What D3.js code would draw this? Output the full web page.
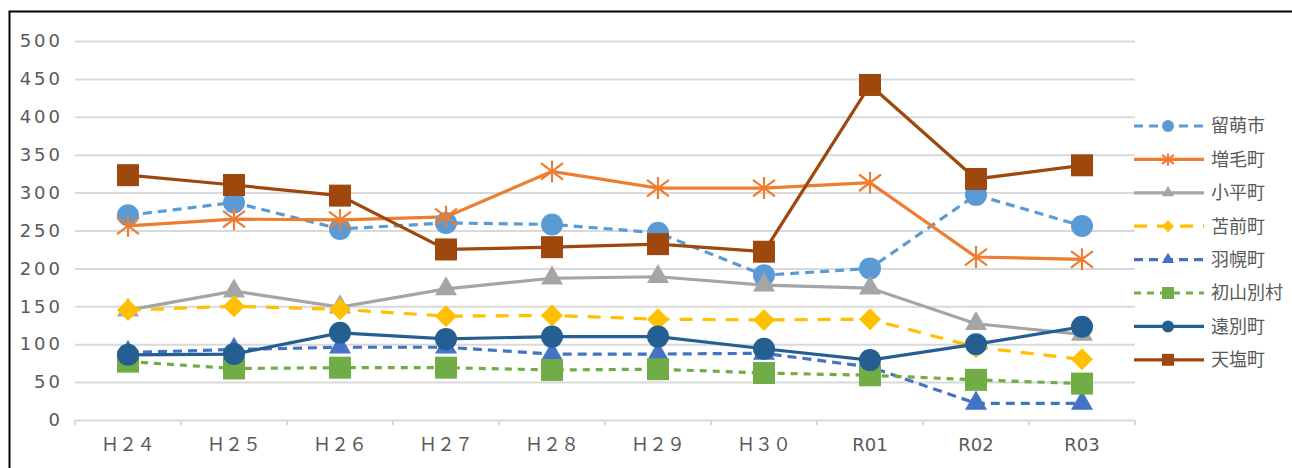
<!DOCTYPE html>
<html>
<head>
<meta charset="utf-8">
<script src="https://cdn.jsdelivr.net/npm/d3@7"></script>
<style>
  body { margin: 0; background: #fff; }
  text { font-family: "Noto Sans CJK JP", "Noto Sans", sans-serif; fill: #595959; }
</style>
</head>
<body>
<div id="chart"></div>
<script>
const years = ['Ｈ２４', 'Ｈ２５', 'Ｈ２６', 'Ｈ２７', 'Ｈ２８', 'Ｈ２９', 'Ｈ３０', 'R01', 'R02', 'R03'];
const yTicks = [0, 50, 100, 150, 200, 250, 300, 350, 400, 450, 500];

const rumoi    = [270, 287, 252, 260, 258, 247, 191, 200, 297, 256];
const mashike  = [256, 265, 264, 268, 328, 306, 306, 313, 215, 212];
const obira    = [145, 170, 149, 173, 187, 189, 178, 174, 127, 113];
const tomamae  = [145, 150, 146, 137, 138, 133, 132, 133, 96, 80];
const haboro   = [89, 93, 96, 96, 87, 87, 88, 70, 22, 22];
const shosanbetsu = [77, 68, 69, 69, 66, 67, 62, 59, 53, 48];
const enbetsu  = [86, 87, 115, 107, 110, 110, 94, 79, 100, 123];
const teshio   = [323, 310, 296, 225, 228, 232, 222, 442, 318, 336];

const names = ['留萌市', '増毛町', '小平町', '苫前町', '羽幌町', '初山別村', '遠別町', '天塩町'];
const values = [rumoi, mashike, obira, tomamae, haboro, shosanbetsu, enbetsu, teshio];

// line style for each series
const styles = [
  { color: '#5B9BD5', dash: '9,6',   marker: 'circle' },
  { color: '#ED7D31', dash: null,    marker: 'star' },
  { color: '#A5A5A5', dash: null,    marker: 'triangle' },
  { color: '#FFC000', dash: '13,10', marker: 'diamond' },
  { color: '#4472C4', dash: '9,6',   marker: 'triangle' },
  { color: '#70AD47', dash: '7,6',   marker: 'square' },
  { color: '#255E91', dash: null,    marker: 'circle' },
  { color: '#9E480E', dash: null,    marker: 'square' }
];

const width = 1292, height = 468;
const plotLeft = 75, plotRight = 1135, plotTop = 41, plotBottom = 420;

const svg = d3.select('#chart').append('svg')
    .attr('width', width)
    .attr('height', height);

// outer frame
svg.append('rect')
    .attr('x', 9.5).attr('y', 11.5)
    .attr('width', 1300).attr('height', 500)
    .style('fill', 'none').style('stroke', '#000').style('stroke-width', 2);

const x = d3.scaleBand().domain(years).range([plotLeft, plotRight]).padding(0);
const y = d3.scaleLinear().domain([0, 500]).range([plotBottom, plotTop]);

// gridlines + y labels
const yAxis = svg.append('g')
    .attr('transform', 'translate(' + plotLeft + ',0)')
    .call(d3.axisLeft(y).tickValues(yTicks).tickSize(-(plotRight - plotLeft)).tickPadding(12));
yAxis.select('.domain').remove();
yAxis.selectAll('line').style('stroke', '#D9D9D9').style('stroke-width', 2);
yAxis.selectAll('text')
    .style('font-family', '"DejaVu Sans", sans-serif')
    .style('font-size', '18px')
    .style('fill', '#595959')
    .style('letter-spacing', '3px');

// x axis labels
const xAxis = svg.append('g')
    .attr('transform', 'translate(0,' + plotBottom + ')')
    .call(d3.axisBottom(x).tickSize(0).tickPadding(18));
xAxis.select('.domain').remove();
xAxis.selectAll('text').style('fill', '#595959')
    .style('font-family', function(d) { return d[0] === 'R' ? '"DejaVu Sans", sans-serif' : '"Noto Sans CJK JP", sans-serif'; })
    .style('font-size', '18px');

// x ticks at band edges
const edges = years.map(function(d) { return x(d); }).concat([plotRight]);
svg.append('g').selectAll('line').data(edges)
    .enter().append('line')
        .attr('x1', function(d) { return d; })
        .attr('x2', function(d) { return d; })
        .attr('y1', plotBottom)
        .attr('y2', plotBottom + 5)
        .style('stroke', '#D9D9D9')
        .style('stroke-width', 2);

// Excel-like star: vertical bar plus an X
const starSymbol = {
  draw: function(ctx, size) {
    const r = Math.sqrt(size) / 2;
    ctx.moveTo(0, -r); ctx.lineTo(0, r);
    ctx.moveTo(-r, -r * 0.75); ctx.lineTo(r, r * 0.75);
    ctx.moveTo(-r, r * 0.75); ctx.lineTo(r, -r * 0.75);
  }
};

function markerPath(kind, s) {
  // s = approximate marker width in px
  if (kind === 'circle') return d3.symbol(d3.symbolCircle, Math.PI * s * s / 4)();
  if (kind === 'square') return d3.symbol(d3.symbolSquare, s * s)();
  if (kind === 'triangle') return d3.symbol(d3.symbolTriangle, Math.sqrt(3) / 4 * s * s)();
  if (kind === 'diamond') return d3.symbol(d3.symbolSquare, s * s / 2)();
  return d3.symbol(starSymbol, s * s)();
}

function drawMarker(g, kind, color, cx, cy, s) {
  const p = g.append('path')
      .attr('d', markerPath(kind, s))
      .attr('transform', 'translate(' + cx + ',' + cy + ')' + (kind === 'diamond' ? ' rotate(45)' : ''));
  if (kind === 'star') {
    p.style('fill', 'none').style('stroke', color).style('stroke-width', 2.2);
  } else {
    p.style('fill', color);
  }
}

const line = d3.line()
    .x(function(d, i) { return x(years[i]) + x.bandwidth() / 2; })
    .y(function(d) { return y(d); });

values.forEach(function(vals, k) {
  const st = styles[k];
  const g = svg.append('g');
  g.append('path')
      .datum(vals)
      .attr('d', line)
      .style('fill', 'none')
      .style('stroke', st.color)
      .style('stroke-width', 3.2)
      .style('stroke-dasharray', st.dash);
  vals.forEach(function(v, i) {
    drawMarker(g, st.marker, st.color, x(years[i]) + x.bandwidth() / 2, y(v), 22);
  });
});

// legend
const legend = svg.append('g');
names.forEach(function(name, k) {
  const st = styles[k];
  const ly = 126 + k * 33.4;
  legend.append('line')
      .attr('x1', 1134).attr('x2', 1204)
      .attr('y1', ly).attr('y2', ly)
      .style('stroke', st.color)
      .style('stroke-width', 3.2)
      .style('stroke-dasharray', st.dash);
  drawMarker(legend, st.marker, st.color, 1168, ly, 12);
  legend.append('text')
      .attr('x', 1211)
      .attr('y', ly)
      .attr('dy', '0.35em')
      .style('font-size', '18px')
      .text(name);
});
</script>
</body>
</html>
